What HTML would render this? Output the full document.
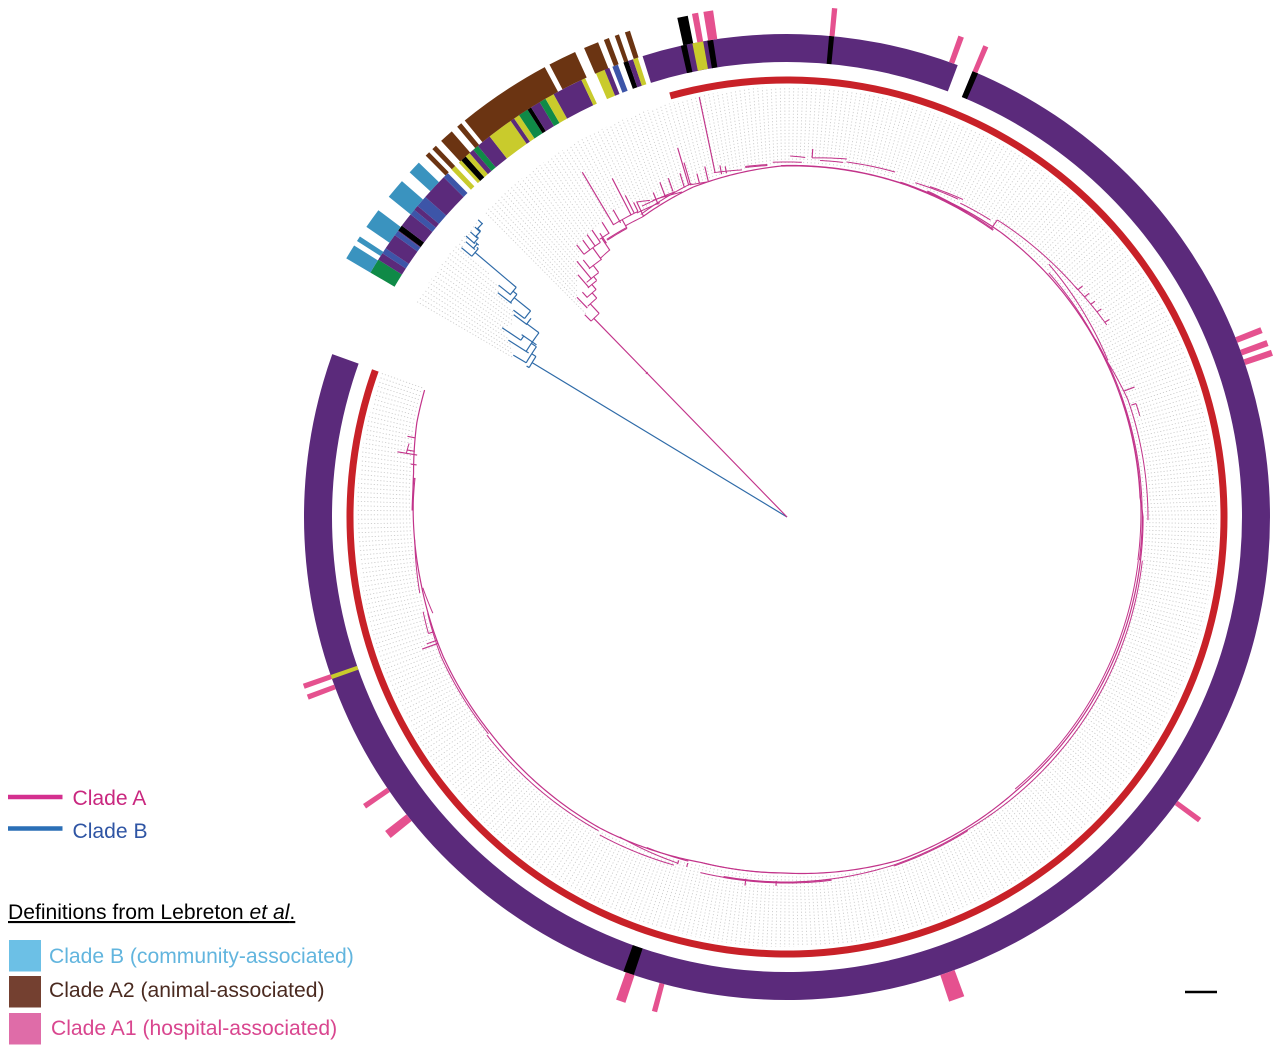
<!DOCTYPE html>
<html lang="en">
<head>
<meta charset="utf-8">
<title>Circular phylogeny with clade definitions</title>
<style>
html,body{margin:0;padding:0;background:#fff;}
body{width:1280px;height:1052px;overflow:hidden;}
svg{display:block;}
text{font-family:"Liberation Sans",Arial,sans-serif;font-size:21.1px;}
</style>
</head>
<body>
<svg id="chart" xmlns="http://www.w3.org/2000/svg" width="1280" height="1052" viewBox="0 0 1280 1052">
  <rect x="0" y="0" width="1280" height="1052" fill="#ffffff"/>
  <g id="guides"></g>
  <g id="treeB"></g>
  <g id="treeA"></g>
  <g id="rings"></g>

  <g>
    <line x1="8" y1="797" x2="62.5" y2="797" stroke="#d4308f" stroke-width="4.5"/>
    <text x="72.5" y="805" fill="#c9277f">Clade A</text>
    <line x1="8" y1="828.5" x2="62.5" y2="828.5" stroke="#2b6fb6" stroke-width="4.5"/>
    <text x="72.5" y="838" fill="#2f55a4">Clade B</text>
  </g>

  <g>
    <text x="8" y="919" fill="#000000" text-decoration="underline">Definitions from Lebreton <tspan font-style="italic">et al</tspan>.</text>
    <rect x="9" y="940" width="32" height="31.5" fill="#6cc0e6"/>
    <text x="49" y="963" fill="#62b5de">Clade B (community-associated)</text>
    <rect x="9" y="976" width="32" height="31.5" fill="#744030"/>
    <text x="49" y="997" fill="#4a2a20">Clade A2 (animal-associated)</text>
    <rect x="9" y="1013" width="32" height="31.5" fill="#df6ca8"/>
    <text x="51" y="1035" fill="#d9468f">Clade A1 (hospital-associated)</text>
  </g>
  <line x1="1185" y1="992" x2="1217" y2="992" stroke="#000000" stroke-width="2.5"/>
</svg>

<script>
/* ---- Data (angles in degrees clockwise from north, divergence from root) ---- */
const backboneAngles = [-25.8,-15.9,-1,18.2,36.8,47.6,63.7,86.8,90,140.1,161.8,180.6,194,211,234,247.9,260,271.5,276.7,284.3,289.3];
const backboneDivergence = [333,343,351,352.6,356,356,355,353.6,356,357,361,356,356,363,367,371,372,374,376,382,384];

const cladeATipAngles = [-44.7,-43.7,-41,-39,-37,-33,-29,-26];
const cladeATipDivergence = [286,304,320,331,344,348,352,351];
const cladeBGuideAngles = [-59.8,-58,-56.4,-55,-53,-52,-51,-50.3,-46];
const cladeBGuideDivergence = [318,326,342,336,343,366,370,422,428];

const cladeATwigs = [
 [-44.2,0,277],[-45,277,286],[-42.7,277,290],[-43.7,289,304],[-41,290,297],[-42.3,297,304],[-40,297,304],
 [-40.8,303,320],[-38.8,304,309],[-39.4,308,331],[-37.6,309,318],[-38.4,318,328],[-35.8,317,332],[-37.7,332,344],
 [-36.4,332,344],[-35.3,332,346],[-34.2,332,347],[-33.6,320,335],[-33.4,328,340],[-32.1,335,348],[-30.7,340,401],
 [-29.5,338,353],[-29,330,340],[-27.3,340,381],[-26.7,340,360],[-26,340,350],[-25.5,333,349],[-22.4,338,351],[-20.8,342,358],
 [-19.3,345,359],[-17.3,345,360],[-16.5,346,385],[-16.2,346,369],[-14.7,345,355],[-13.2,345,360],[-11.8,352,429],
 [-10.8,349,358],[-10,349,356],[4,360,369],
 [35.3,353,364],[52,369,375],[53.5,370,376],[55,371,376],[56.5,372,377],[58.5,373,378],[69.5,360,371],[72,362,367],
 [181.7,364,369],[186.5,364,371],[196,360,364],[197.5,360,364],[250.1,371,388],[250.6,371,382],[252,372,377],
 [278,374,380],[279.5,375,395],[280,378,386],[282,380,388]
];
const cladeAArcs = [
 [-44.6,-43.9,201,201],[-45,-42.7,277,277],[-43.4,-41,290,290],[-42.4,-40,297,297],[-41,-38.8,303.5,303.5],
 [-40.5,-37.6,308.5,308.5],[-38.6,-35.8,317.5,317.5],[-35.8,-33.6,319,320.5],[-37.7,-34.2,332,332],[-34,-32,335,335],
 [-33,-29,330,330],[-33,-29,331,331],[-30.8,-26,340,340],[-29,-25.8,333,333],[-26.3,-22,339,339],[-25.5,-23.4,349,345],
 [-25,-19,343,344],[-25.8,-16,336,347],[-23,-17.9,344,341.5],
 [-16.3,-13.4,346,344.4],[-12,-7.4,352,350],[-6.8,-3.2,352,352],[-6.8,-3.2,353,353],[-2.3,2.4,355,355],
 [0.5,2.9,361,360],[4,9.5,360,363],[5.3,9,358,359],[9.5,17.4,360,361.5],[-1,18.7,351.5,353],[18.7,35.7,352.6,353],
 [18.7,35.7,353.6,354],[21,28.3,358,361],[23.4,29,360,363],[28.9,34.4,358.5,360],[23.3,30.6,354,353],[23.3,30.6,355,354],
 [35.3,52,364,369],[46,64,364,357],[47,64,358,355],[51.4,59,369,373],[64,71,356,360.5],[71,90.5,360.5,361],
 [70,97,355,353.5],[60,97,356,355],[72,74,367,367],[97,150,358,361],[97,140,354,355],[150,163,361,364],[150,163,362,365],
 [163,193.7,364,366],[173,190,365,365],[173,190,366,366],[180.6,194,356,356],[197.5,207.6,363,361],[198,210.5,366,369],
 [196,203,358,359],[211,234,366,371],[234,248,369,373],[248,255,373,372],[254.8,259,367,371],[258.3,266.5,375,373],
 [252,255.4,377,376],[271,276,374,374],[271,276,375,375],[279.5,281,386,385]
];
const cladeBTwigs = [
 [-58.8,0,298],[-59.9,298,301],[-57.4,298,303],[-59.4,303,318],[-57.6,306,330],[-56.4,319.5,342],[-55.8,303,309],
 [-55.5,304,322],[-53.4,309,324],[-53.5,324,340],[-52.9,329,343],[-52.2,348.5,366],[-51.2,329,350],[-50.5,350,355],
 [-51.2,355,370],[-49.7,355,409],[-50.4,409,422.5],[-49,409,411],[-49.4,411,423],[-48.6,411,415],[-48.8,415,426.6],
 [-47.9,416,419],[-48,417,426],[-47.1,419,426],[-46.1,423,428.6],[-47,419,423]
];
const cladeBArcs = [
 [-59.9,-57.4,298,298],[-59.4,-55.8,303,303],[-57.6,-53.4,309,309],[-56.4,-55.5,319.5,319.5],[-53.6,-52.2,324,324],
 [-52.9,-51.2,329,329],[-52.2,-50.5,350,350],[-51.3,-49.7,355,355],[-50.4,-49,409,409],[-49.4,-48.6,413,413],
 [-48.8,-47.9,416,416],[-48,-47,419,419],[-47.1,-46,423,423]
];

const cladeAGuideSpan = [-44.7,289.6];
const guideOuterDivergence = 430;

const mainRingSpans = [[22.6,289.7],[-17.4,20.7]];
const redRingSpan = [-15.5,289.6];
const ringMarks = [
 [22.6,23.3,"K"],[250.4,250.9,"O"],[198.5,199.8,"K"],[5,5.6,"K"],[-12.7,-12,"K"],[-11.3,-10,"O"],[-9.5,-8.8,"K"]
];
const variableRingSpans = [
 [-59.6,-57.8,"G"],[-57.8,-56.9,"P"],[-56.9,-56.2,"B"],[-56.2,-54.3,"P"],[-54.3,-53.7,"B"],[-53.7,-53.6,"P"],[-53.6,-52.9,"K"],
 [-52.9,-51.2,"P"],[-51.2,-50.5,"B"],[-50.5,-49.9,"P"],[-49.9,-48.5,"B"],[-48.5,-45.3,"P"],[-45.3,-44.6,"B"],
 [-44,-43.4,"O"],[-42.8,-42.4,"O"],[-42.4,-41.7,"K"],[-41.7,-41.1,"O"],[-41.1,-40.5,"P"],[-40.5,-39.8,"G"],[-39.8,-38,"P"],
 [-38,-34.9,"O"],[-34.9,-34.4,"P"],[-34.4,-33.7,"O"],[-33.7,-32.5,"G"],[-32.5,-32,"K"],[-32,-30.8,"P"],[-30.8,-30,"G"],
 [-30,-28.9,"O"],[-28.9,-25.2,"P"],[-25.2,-24.7,"O"],[-23.3,-22.2,"O"],[-22.2,-21.6,"P"],[-21.2,-20.5,"B"],
 [-19.8,-19.2,"K"],[-19.2,-18.6,"P"],[-18.6,-18,"O"]
];
const outerBars = [
 [-59.6,-57.9,"B1",511],[-57.3,-56.7,"B1",511],[-55.4,-53.1,"B1",511],[-51.2,-48.9,"B1",511],[-47.6,-46.1,"B1",511],
 [-45,-44.45,"A2",511],[-43.95,-43.4,"A2",511],[-42.6,-41,"A2",511],[-40.2,-39.6,"A2",511],[-39.1,-28.3,"A2",511],
 [-27.7,-24.5,"A2",511],[-23.4,-21.7,"A2",511],[-21,-20.4,"A2",511],[-19.7,-19.2,"A2",511],[-18.5,-17.9,"A2",511],
 [-12.4,-11.2,"K",511],[-10.7,-10,"A1",512],[-9.4,-8.3,"A1",512],[5.05,5.65,"A1",511],[19.6,20.25,"A1",511],[22.6,23.2,"A1",511],
 [68.15,68.85,"A1",510],[69.75,70.45,"A1",511],[70.95,71.65,"A1",512],[126,126.6,"A1",512],[159.7,161.5,"A1",511],
 [194.7,195.3,"A1",512],[198.4,199.5,"A1",512],[231,232,"A1",510],[235.3,235.9,"A1",512],[249.1,249.7,"A1",512],[250.4,251,"A1",512]
];

/* ---- Style lookups ---- */
const ringColors = {P:"#5b2a7b",O:"#c9cb2c",K:"#000000",G:"#0f8a47",B:"#3d55a8",B1:"#3a93bf",A2:"#6b3412",A1:"#e5518f"};
const cladeAColor = "#c2348a";
const cladeBColor = "#2f6ba8";
const guideColor = "#cacaca";
const guideStep = 0.6;
const cx = 787, cy = 517;
const ringInner = 455, ringOuter = 483, redInner = 433.5, redOuter = 440.5;
const SVGNS = "http://www.w3.org/2000/svg";

/* ---- Axis functions ---- */
function radiusOf(d){ return d; }
function polar(theta,d){
  const a = theta*Math.PI/180, r = radiusOf(d);
  return [cx + r*Math.sin(a), cy - r*Math.cos(a)];
}
function fmt(p){ return p[0].toFixed(2)+" "+p[1].toFixed(2); }
function interp(xs,ys,x){
  if(x<=xs[0]) return ys[0];
  for(let i=1;i<xs.length;i++){
    if(x<=xs[i]){ const t=(x-xs[i-1])/(xs[i]-xs[i-1]); return ys[i-1]+t*(ys[i]-ys[i-1]); }
  }
  return ys[ys.length-1];
}
function radialPath(theta,d0,d1){ return "M"+fmt(polar(theta,d0))+"L"+fmt(polar(theta,d1)); }
function spiralPath(t0,t1,d0,d1){
  const n = Math.max(2,Math.ceil(Math.abs(t1-t0)/0.5));
  let s = "";
  for(let i=0;i<=n;i++){
    const f=i/n;
    s += (i?"L":"M")+fmt(polar(t0+(t1-t0)*f,d0+(d1-d0)*f));
  }
  return s;
}
function sectorPath(t0,t1,r0,r1){
  const large = Math.abs(t1-t0)>180?1:0;
  return "M"+fmt(polar(t0,r0))+"A"+r0+" "+r0+" 0 "+large+" 1 "+fmt(polar(t1,r0))+
         "L"+fmt(polar(t1,r1))+"A"+r1+" "+r1+" 0 "+large+" 0 "+fmt(polar(t0,r1))+"Z";
}
function strokePath(parent,d,color,width){
  const el = document.createElementNS(SVGNS,"path");
  el.setAttribute("d",d);
  el.setAttribute("fill","none");
  el.setAttribute("stroke",color);
  el.setAttribute("stroke-width",width);
  parent.appendChild(el);
  return el;
}
function fillPath(parent,d,color){
  const el = document.createElementNS(SVGNS,"path");
  el.setAttribute("d",d);
  el.setAttribute("fill",color);
  parent.appendChild(el);
  return el;
}
function cladeATip(t){
  if(t<cladeATipAngles[cladeATipAngles.length-1]) return interp(cladeATipAngles,cladeATipDivergence,t);
  return interp(backboneAngles,backboneDivergence,t)+3;
}

/* ---- Leaf guides ---- */
const guides = document.getElementById("guides");
let guideA = "";
for(let t=cladeAGuideSpan[0]; t<=cladeAGuideSpan[1]; t+=guideStep){
  guideA += radialPath(t, cladeATip(t), guideOuterDivergence);
}
const guidePathA = strokePath(guides,guideA,guideColor,0.85);
guidePathA.setAttribute("stroke-dasharray","1.2 2");


let guideB = "";
for(let t=cladeBGuideAngles[0]; t<=cladeBGuideAngles[cladeBGuideAngles.length-1]; t+=guideStep){
  guideB += radialPath(t, interp(cladeBGuideAngles,cladeBGuideDivergence,t), guideOuterDivergence-2);
}
const guidePathB = strokePath(guides,guideB,guideColor,0.85);
guidePathB.setAttribute("stroke-dasharray","1.2 2");



/* ---- Tree: clade A ---- */
const treeA = document.getElementById("treeA");
let backboneD = "";
for(let i=1;i<backboneAngles.length;i++){
  const part = spiralPath(backboneAngles[i-1],backboneAngles[i],backboneDivergence[i-1],backboneDivergence[i]);
  backboneD += (i>1 ? part.replace(/^M/,"L") : part);
}
const backbone = strokePath(treeA,backboneD,cladeAColor,1.2);


cladeATwigs.forEach(function(b){
  const el = strokePath(treeA,radialPath(b[0],b[1],b[2]),cladeAColor,1.15);
  
  
});
cladeAArcs.forEach(function(b){
  const el = strokePath(treeA,spiralPath(b[0],b[1],b[2],b[3]),cladeAColor,1);
  
  
});

/* ---- Tree: clade B ---- */
const treeB = document.getElementById("treeB");
cladeBTwigs.forEach(function(b){
  const el = strokePath(treeB,radialPath(b[0],b[1],b[2]),cladeBColor,1.2);
  
  
});
cladeBArcs.forEach(function(b){
  const el = strokePath(treeB,spiralPath(b[0],b[1],b[2],b[3]),cladeBColor,1.2);
  
  
});

/* ---- Rings ---- */
const rings = document.getElementById("rings");
const red = fillPath(rings,sectorPath(redRingSpan[0],redRingSpan[1],redOuter,redInner),"#c82128");


mainRingSpans.forEach(function(s){
  const el = fillPath(rings,sectorPath(s[0],s[1],ringOuter,ringInner),ringColors.P);
  
  
});
ringMarks.forEach(function(s){
  const el = fillPath(rings,sectorPath(s[0],s[1],ringOuter,ringInner),ringColors[s[2]]);
  
  
});
variableRingSpans.forEach(function(s){
  const el = fillPath(rings,sectorPath(s[0],s[1],ringOuter,ringInner),ringColors[s[2]]);
  
  
});
outerBars.forEach(function(s){
  const el = fillPath(rings,sectorPath(s[0],s[1],s[3],ringOuter),ringColors[s[2]]);
  
  
});
</script>
</body>
</html>
